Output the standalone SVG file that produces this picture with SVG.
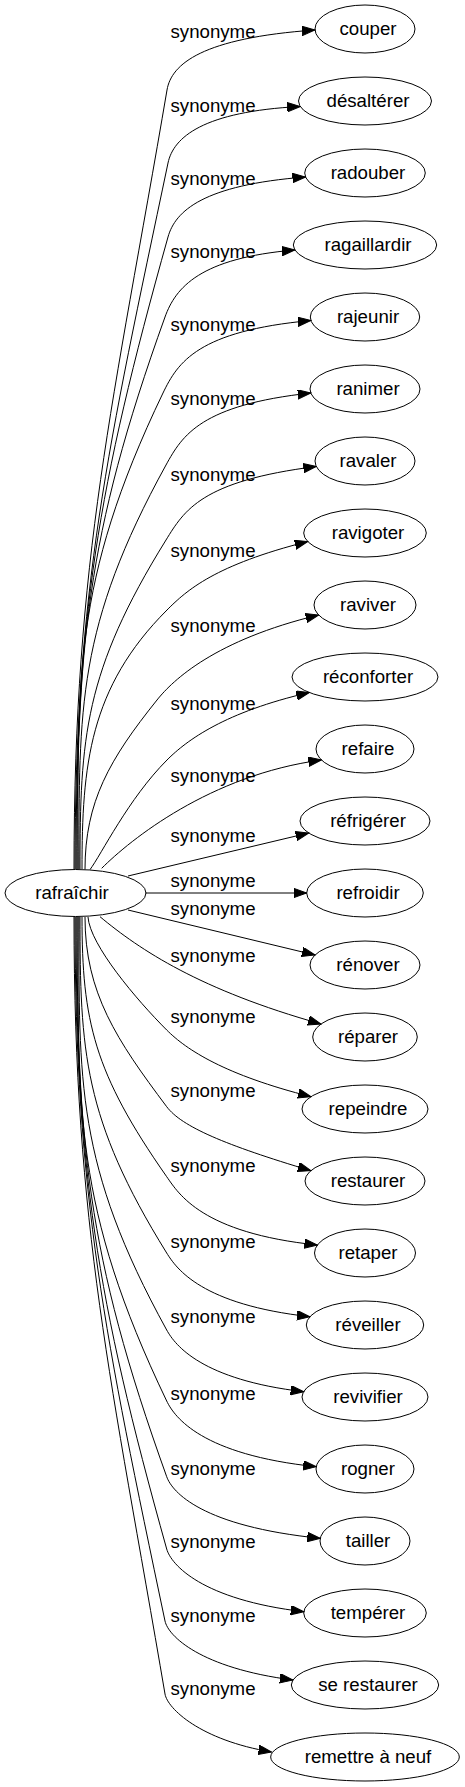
<svg xmlns="http://www.w3.org/2000/svg" width="465" height="1787" viewBox="0 0 465 1787">
<style>
text{font-family:"Liberation Sans",Arial,sans-serif;font-size:18.67px;fill:#000}
.n text{text-anchor:middle}
.n ellipse{fill:none;stroke:#000;stroke-width:1}
#edges path{fill:none;stroke:#000;stroke-width:1;marker-end:url(#ah)}
#labels text{text-anchor:middle}
</style>
<defs>
<marker id="ah" markerUnits="userSpaceOnUse" viewBox="0 0 14 10" markerWidth="14" markerHeight="10" refX="13" refY="4.7" orient="auto">
<path d="M0,0 L13,4.7 L0,9.4 Z" fill="#000" stroke="#000" stroke-width="1"/>
</marker>
</defs>
<rect width="465" height="1787" fill="#fff"/>
<g id="edges">
<path d="M74,869 C74,557.4 114,401.6 167,90 C171.4,64 202,38 315,30"/>
<path d="M75,869 C75,586.6 108.7,445.4 168,163 C173.4,137.3 203,111.5 300.3,106.5"/>
<path d="M76,869 C76,616.2 97.2,489.8 168,237 C175.3,211 203,185 305.5,177"/>
<path d="M77,869 C77,648.2 85.5,537.8 165,317 C175.6,287.5 200,258 294.9,250"/>
<path d="M78,869 C78,678.6 71.6,583.4 163,393 C177.9,362 198,331 310.9,320.5"/>
<path d="M79,869 C79,707.4 77.1,626.6 166,465 C182.5,435 201,405 310.8,393"/>
<path d="M80,869 C80,737.4 84.4,671.6 166,540 C184.3,510.5 201,481 316.3,466.5"/>
<path d="M82,869 C82,765.4 89.3,687.7 167,610 C187,590 215,565 307.7,541.5"/>
<path d="M85,869.5 C85,801.7 109.5,759.3 157,700 C173,680 215,640 318.6,615"/>
<path d="M90,869.6 C101,855 128.5,798.5 167,760 C187,740 225,712 309.3,692.5"/>
<path d="M101.7,868.3 C130,840 210,775 321.4,760"/>
<path d="M128,876 L308.7,833"/>
<path d="M145.5,893 L306.7,893"/>
<path d="M128,910 L315,955"/>
<path d="M100,916.7 C140,950 200,990 321,1024"/>
<path d="M88,917 C90,945 136.7,1000 166.7,1030 C186.7,1050 225,1075 311,1096.7"/>
<path d="M85,917 C85,992.9 116.9,1040.3 166.7,1106.7 C181.7,1126.7 225,1145 310.8,1170.7"/>
<path d="M82,917 C82,1020.9 94,1072.8 166.7,1176.7 C178.7,1193.8 201.7,1233 317.4,1245"/>
<path d="M80,917 C80,1051.4 83.4,1118.6 166.7,1253 C176.6,1268.9 201.7,1304.7 310,1316.7"/>
<path d="M79,917 C79,1082.2 75.8,1164.8 166.7,1330 C175.2,1345.4 201.7,1379.7 303.6,1391.7"/>
<path d="M78,917 C78,1110.6 73.8,1207.4 166.7,1401 C174.6,1417.4 201.7,1454.7 316.2,1466.7"/>
<path d="M77,917 C77,1140.9 86.1,1252.8 166.7,1476.7 C172.2,1492.1 201.7,1526.3 320.3,1538.3"/>
<path d="M76,917 C76,1169.8 95.9,1296.2 166.7,1549 C171.1,1564.7 201.7,1599.7 303.8,1611.7"/>
<path d="M75,917 C75,1198.6 105.9,1339.4 165,1621 C168.1,1635.8 200,1668 292.9,1680"/>
<path d="M74,917 C74,1227.8 112.2,1383.2 165,1694 C167.5,1708.5 200,1740 271.5,1752"/>
</g>
<g id="labels">
<text x="213" y="38">synonyme</text>
<text x="213" y="111.5">synonyme</text>
<text x="213" y="185">synonyme</text>
<text x="213" y="258">synonyme</text>
<text x="213" y="331">synonyme</text>
<text x="213" y="405">synonyme</text>
<text x="213" y="481">synonyme</text>
<text x="213" y="556.5">synonyme</text>
<text x="213" y="632">synonyme</text>
<text x="213" y="710">synonyme</text>
<text x="213" y="782">synonyme</text>
<text x="213" y="842">synonyme</text>
<text x="213" y="887">synonyme</text>
<text x="213" y="915">synonyme</text>
<text x="213" y="962">synonyme</text>
<text x="213" y="1023">synonyme</text>
<text x="213" y="1096.5">synonyme</text>
<text x="213" y="1171.5">synonyme</text>
<text x="213" y="1248">synonyme</text>
<text x="213" y="1323">synonyme</text>
<text x="213" y="1400">synonyme</text>
<text x="213" y="1475">synonyme</text>
<text x="213" y="1548">synonyme</text>
<text x="213" y="1621.5">synonyme</text>
<text x="213" y="1695">synonyme</text>
</g>
<g id="root" class="n"><ellipse cx="75.5" cy="893" rx="70.5" ry="23.5"/><text x="72" y="899">rafraîchir</text></g>
<g id="n0" class="n"><ellipse cx="365" cy="29" rx="50" ry="24"/><text x="368" y="35">couper</text></g>
<g id="n1" class="n"><ellipse cx="365" cy="101" rx="66.5" ry="24"/><text x="368" y="107">désaltérer</text></g>
<g id="n2" class="n"><ellipse cx="365" cy="173" rx="60.3" ry="24"/><text x="368" y="179">radouber</text></g>
<g id="n3" class="n"><ellipse cx="365" cy="245" rx="71.7" ry="24"/><text x="368" y="251">ragaillardir</text></g>
<g id="n4" class="n"><ellipse cx="365" cy="317" rx="54.7" ry="24"/><text x="368" y="323">rajeunir</text></g>
<g id="n5" class="n"><ellipse cx="365" cy="389" rx="55" ry="24"/><text x="368" y="395">ranimer</text></g>
<g id="n6" class="n"><ellipse cx="365" cy="461" rx="50" ry="24"/><text x="368" y="467">ravaler</text></g>
<g id="n7" class="n"><ellipse cx="365" cy="533" rx="61.3" ry="24"/><text x="368" y="539">ravigoter</text></g>
<g id="n8" class="n"><ellipse cx="365" cy="605" rx="51" ry="24"/><text x="368" y="611">raviver</text></g>
<g id="n9" class="n"><ellipse cx="365" cy="677" rx="73" ry="24"/><text x="368" y="683">réconforter</text></g>
<g id="n10" class="n"><ellipse cx="365" cy="749" rx="49" ry="24"/><text x="368" y="755">refaire</text></g>
<g id="n11" class="n"><ellipse cx="365" cy="821" rx="65" ry="24"/><text x="368" y="827">réfrigérer</text></g>
<g id="n12" class="n"><ellipse cx="365" cy="893" rx="58.3" ry="24"/><text x="368" y="899">refroidir</text></g>
<g id="n13" class="n"><ellipse cx="365" cy="965" rx="55" ry="24"/><text x="368" y="971">rénover</text></g>
<g id="n14" class="n"><ellipse cx="365" cy="1037" rx="52.3" ry="24"/><text x="368" y="1043">réparer</text></g>
<g id="n15" class="n"><ellipse cx="365" cy="1109" rx="63" ry="24"/><text x="368" y="1115">repeindre</text></g>
<g id="n16" class="n"><ellipse cx="365" cy="1181" rx="60" ry="24"/><text x="368" y="1187">restaurer</text></g>
<g id="n17" class="n"><ellipse cx="365" cy="1253" rx="50.5" ry="24"/><text x="368" y="1259">retaper</text></g>
<g id="n18" class="n"><ellipse cx="365" cy="1325" rx="58.7" ry="24"/><text x="368" y="1331">réveiller</text></g>
<g id="n19" class="n"><ellipse cx="365" cy="1397" rx="63" ry="24"/><text x="368" y="1403">revivifier</text></g>
<g id="n20" class="n"><ellipse cx="365" cy="1469" rx="49" ry="24"/><text x="368" y="1475">rogner</text></g>
<g id="n21" class="n"><ellipse cx="365" cy="1541" rx="45" ry="24"/><text x="368" y="1547">tailler</text></g>
<g id="n22" class="n"><ellipse cx="365" cy="1613" rx="61.3" ry="24"/><text x="368" y="1619">tempérer</text></g>
<g id="n23" class="n"><ellipse cx="365" cy="1685" rx="73.7" ry="24"/><text x="368" y="1691">se restaurer</text></g>
<g id="n24" class="n"><ellipse cx="365" cy="1757" rx="94.3" ry="24"/><text x="368" y="1763">remettre à neuf</text></g>
</svg>
